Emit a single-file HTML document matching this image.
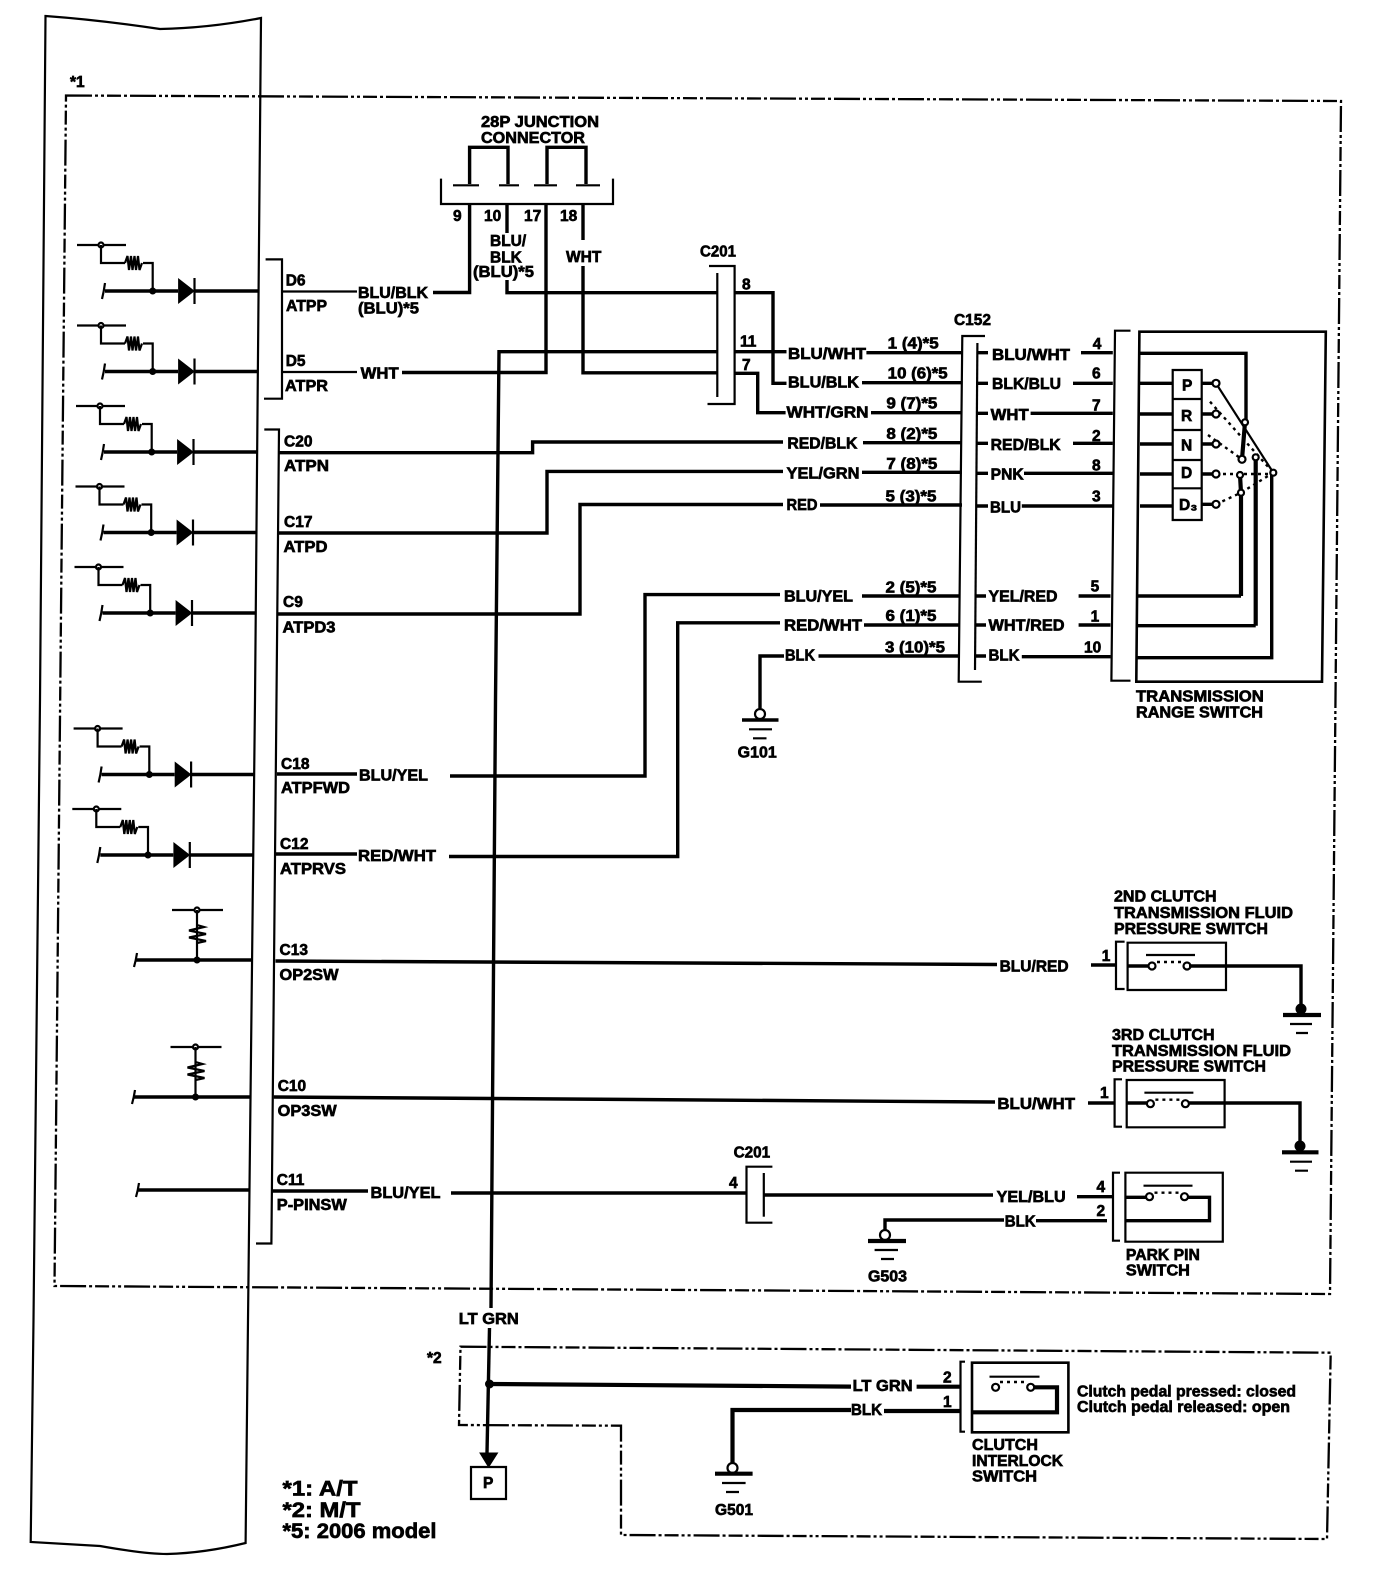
<!DOCTYPE html>
<html lang="en"><head><meta charset="utf-8"><title>A/T gear position wiring diagram</title>
<style>
html,body{margin:0;padding:0;background:#fff}
svg{display:block}
text{font-family:"Liberation Sans",Arial,sans-serif;font-weight:700;font-size:15.5px;fill:#000;stroke:#000;stroke-width:.65}
.w,.t,.h,.b,.d,.f{fill:none;stroke:#000;stroke-linejoin:miter}
.w{stroke-width:3.4}.t{stroke-width:2.2}.h{stroke-width:4.2}.b{stroke-width:2.6}
.d{stroke-width:2.3;stroke-dasharray:26 3 3 3 3 3 14 3 3 3}
.f{stroke-width:2.4;stroke-dasharray:3 4}
.n{fill:#fff;stroke:#000;stroke-width:2.2}.s{fill:#000;stroke:#000}
</style></head><body>
<svg width="1376" height="1582" viewBox="0 0 1376 1582" xmlns="http://www.w3.org/2000/svg">
<defs>
<g id="diode">
<path class="t" d="M77 245H126"/><circle class="n" cx="101" cy="245" r="2.5"/>
<path class="t" d="M101 245V263H125M143 263H152.7V291"/>
<path class="t" d="M125 263l2.5-7 1.5 14 2-14 1.5 14 2-14 1.5 14 2-14 1.5 14 2.5-7"/>
<path class="w" d="M105 291H178M194 291H258"/>
<path class="t" d="M105 283Q104 291 102 299" stroke-width="1.5"/>
<circle class="s" cx="152.7" cy="291" r="3"/>
<path class="s" d="M178.6 279V303L194 291Z"/><path class="t" d="M194.5 278V304"/>
</g>
<g id="vres">
<path class="t" d="M0 0H51"/><circle class="n" cx="25" cy="0" r="2.5"/>
<path class="t" d="M25 0V50"/>
<path class="t" d="M25 15l7 2-15 3.5 17 3.5-17 3.5 17 3.5-9 2" />
<circle class="s" cx="25" cy="50" r="3"/>
</g>
<g id="sw">
<path class="t" d="M0 0H49"/>
<circle class="n" cx="6" cy="11" r="3.5"/><circle class="n" cx="41" cy="11" r="3.5"/>
<path class="f" d="M11 7H36"/>
</g>
</defs>

<!-- left ECM body -->
<path class="t" d="M45.5 16Q100 20 160 29Q210 28 261 18L257.6 400L255 700L248 1320L245.6 1543Q205 1553 167 1554Q145 1554 100 1546L30.7 1542L33.5 1320L40 700Z"/>

<!-- dash-dot boxes -->
<path class="d" d="M66 95.5L1341 101L1330 1294L54.5 1286Z"/>
<path class="d" d="M460.5 1346.7L1330.7 1352.7L1327 1539L621 1535L621 1425.7L459 1425Z"/>
<text x="70" y="87">*1</text>
<text x="427" y="1363">*2</text>

<!-- diode rows -->
<use href="#diode"/>
<use href="#diode" x="0" y="80.5"/>
<use href="#diode" x="-1" y="161"/>
<use href="#diode" x="-1.5" y="241.5"/>
<use href="#diode" x="-2.5" y="322"/>
<use href="#diode" x="-3.4" y="483.5"/>
<use href="#diode" x="-4.7" y="564"/>

<!-- pressure switch inputs -->
<use href="#vres" x="172" y="910"/>
<path class="w" d="M136 960H251"/><path class="t" d="M137 953Q136 960 134 967"/>
<use href="#vres" x="170.5" y="1047"/>
<path class="w" d="M134 1097H250"/><path class="t" d="M135 1090Q134 1097 132 1104"/>
<path class="w" d="M138 1190H248.7"/><path class="t" d="M139 1183Q138 1190 136 1197"/>

<!-- ECM connectors -->
<path class="t" d="M265.6 259.4H282V398.7H264"/>
<path class="t" d="M264.3 429.5H279L271.4 1243.5H256"/>

<!-- ECM labels -->
<text x="285.7" y="285.7">D6</text><text x="286" y="311" textLength="41" lengthAdjust="spacingAndGlyphs">ATPP</text>
<text x="285.7" y="366">D5</text><text x="285" y="391" textLength="43" lengthAdjust="spacingAndGlyphs">ATPR</text>
<text x="284" y="446.4">C20</text><text x="284" y="471" textLength="45" lengthAdjust="spacingAndGlyphs">ATPN</text>
<text x="284" y="527">C17</text><text x="283.5" y="552" textLength="44" lengthAdjust="spacingAndGlyphs">ATPD</text>
<text x="283" y="607">C9</text><text x="282.5" y="632.6" textLength="53" lengthAdjust="spacingAndGlyphs">ATPD3</text>
<text x="281" y="769">C18</text><text x="281" y="793" textLength="69" lengthAdjust="spacingAndGlyphs">ATPFWD</text>
<text x="280" y="849">C12</text><text x="280" y="874" textLength="66" lengthAdjust="spacingAndGlyphs">ATPRVS</text>
<text x="279.5" y="955">C13</text><text x="279.5" y="980" textLength="59" lengthAdjust="spacingAndGlyphs">OP2SW</text>
<text x="277.7" y="1091">C10</text><text x="277.7" y="1116" textLength="59" lengthAdjust="spacingAndGlyphs">OP3SW</text>
<text x="276.8" y="1185">C11</text><text x="276.8" y="1210" textLength="70" lengthAdjust="spacingAndGlyphs">P-PINSW</text>

<!-- 28P junction connector -->
<text x="481" y="127" textLength="118" lengthAdjust="spacingAndGlyphs">28P JUNCTION</text>
<text x="481" y="143" textLength="104" lengthAdjust="spacingAndGlyphs">CONNECTOR</text>
<path class="t" d="M441 178.6V204H613V178.6"/>
<path class="w" d="M469.6 184V147.3H508V184M547 184V147.3H586V184"/>
<path class="t" d="M453 185.3H479M499 185.3H519M534 185.3H557M576 185.3H600"/>
<text x="453" y="221">9</text><text x="484" y="221">10</text><text x="524" y="221">17</text><text x="560" y="221">18</text>
<text x="490" y="246">BLU/</text><text x="490" y="262.5">BLK</text>
<text x="473" y="277" textLength="61" lengthAdjust="spacingAndGlyphs">(BLU)*5</text>
<text x="566" y="262">WHT</text>

<!-- wires from ECM to C201 -->
<path class="t" d="M282 291.5H357"/>
<text x="358" y="298" textLength="70" lengthAdjust="spacingAndGlyphs">BLU/BLK</text>
<text x="358" y="313.4" textLength="61" lengthAdjust="spacingAndGlyphs">(BLU)*5</text>
<path class="w" d="M433 292.5H469.6V204"/>
<path class="w" d="M507 204V233M507 280V292.7H717"/>
<path class="t" d="M282 372H357"/>
<text x="360.7" y="378.6" textLength="38" lengthAdjust="spacingAndGlyphs">WHT</text>
<path class="w" d="M402 372.5H546V204"/>
<path class="w" d="M583 204V240M583 266V372.8H717"/>
<path class="w" d="M717 351.7H499L495.5 700L491 1308"/>
<path class="w" d="M489.5 1328L487 1453"/>
<path class="s" d="M480 1453H497.5L488.6 1467Z"/>
<text x="458.8" y="1324" textLength="60" lengthAdjust="spacingAndGlyphs">LT GRN</text>
<path class="t" d="M471 1467H506V1499H471Z"/>
<text x="483" y="1488">P</text>

<!-- C20, C17, C9 -->
<path class="w" d="M279 452.7H532.6V442H783"/>
<path class="w" d="M279 533H547V471.4H783"/>
<path class="w" d="M278 614H580V504.5H783"/>
<!-- C18, C12 -->
<path class="w" d="M277 774H357"/>
<text x="359" y="780.6" textLength="69" lengthAdjust="spacingAndGlyphs">BLU/YEL</text>
<path class="w" d="M450 776H645V594.6H780"/>
<path class="w" d="M275.5 854H357"/>
<text x="358" y="861" textLength="78" lengthAdjust="spacingAndGlyphs">RED/WHT</text>
<path class="w" d="M449 856.5H677.7V622.8H780"/>

<!-- C201 upper -->
<text x="700" y="256.7" textLength="36" lengthAdjust="spacingAndGlyphs">C201</text>
<path class="t" d="M709 266H734.6V404H707.5"/>
<path class="t" d="M717.3 273V397"/>
<text x="742" y="289.3">8</text><text x="740" y="346.7">11</text><text x="742" y="370">7</text>
<path class="w" d="M734.6 292.7H773V383.3H786.5"/>
<path class="w" d="M734.6 351.7H786.5"/>
<path class="w" d="M734.6 373.3H757.7V412.7H785.6"/>

<!-- mid labels -->
<text x="788" y="359" textLength="78" lengthAdjust="spacingAndGlyphs">BLU/WHT</text>
<text x="788" y="387.3" textLength="71" lengthAdjust="spacingAndGlyphs">BLU/BLK</text>
<text x="786.5" y="417.7" textLength="82" lengthAdjust="spacingAndGlyphs">WHT/GRN</text>
<text x="787.4" y="448.3" textLength="70" lengthAdjust="spacingAndGlyphs">RED/BLK</text>
<text x="786.5" y="478.3" textLength="73" lengthAdjust="spacingAndGlyphs">YEL/GRN</text>
<text x="786.5" y="510" textLength="31" lengthAdjust="spacingAndGlyphs">RED</text>
<text x="784" y="601.3" textLength="69" lengthAdjust="spacingAndGlyphs">BLU/YEL</text>
<text x="784" y="630.7" textLength="78" lengthAdjust="spacingAndGlyphs">RED/WHT</text>
<text x="785" y="660.7" textLength="30" lengthAdjust="spacingAndGlyphs">BLK</text>

<path class="w" d="M866.4 352.7H962M862 382.7H962M871 412.7H962M863 442.7H962M862 472.3H962M820 505H962M862 596H959.6M864 625H958.7M818.5 656H958.7"/>
<text x="887.7" y="348.3" textLength="51" lengthAdjust="spacingAndGlyphs">1 (4)*5</text>
<text x="887.7" y="378.3" textLength="60" lengthAdjust="spacingAndGlyphs">10 (6)*5</text>
<text x="886.4" y="408.3" textLength="51" lengthAdjust="spacingAndGlyphs">9 (7)*5</text>
<text x="886.4" y="439" textLength="51" lengthAdjust="spacingAndGlyphs">8 (2)*5</text>
<text x="886.4" y="469" textLength="51" lengthAdjust="spacingAndGlyphs">7 (8)*5</text>
<text x="885.5" y="501.7" textLength="51" lengthAdjust="spacingAndGlyphs">5 (3)*5</text>
<text x="885.5" y="592.3" textLength="51" lengthAdjust="spacingAndGlyphs">2 (5)*5</text>
<text x="885.5" y="621" textLength="51" lengthAdjust="spacingAndGlyphs">6 (1)*5</text>
<text x="885" y="652.3" textLength="60" lengthAdjust="spacingAndGlyphs">3 (10)*5</text>

<!-- G101 -->
<path class="w" d="M784 656H760V708"/>
<circle cx="760" cy="714" r="5" fill="#fff" stroke="#000" stroke-width="2.2"/>
<path class="w" d="M742 720H778.5"/><path class="t" d="M749 729.3H772M753 738.3H766.5"/>
<text x="737.7" y="757.7" textLength="39" lengthAdjust="spacingAndGlyphs">G101</text>

<!-- C152 -->
<text x="954" y="325" textLength="37" lengthAdjust="spacingAndGlyphs">C152</text>
<path class="t" d="M985 336H962.3L958.7 681.7H981.8"/>
<path class="t" d="M977.4 343L975 670"/>
<path class="w" d="M977 352.7H988M977 383.3H988M977 413.3H988M977 443.3H988M977 473.3H988M977 506H988M976 596H986M976 625H986M976 656H986"/>
<text x="992" y="360" textLength="78" lengthAdjust="spacingAndGlyphs">BLU/WHT</text>
<text x="992" y="389" textLength="69" lengthAdjust="spacingAndGlyphs">BLK/BLU</text>
<text x="990.7" y="420" textLength="38" lengthAdjust="spacingAndGlyphs">WHT</text>
<text x="990.7" y="450" textLength="70" lengthAdjust="spacingAndGlyphs">RED/BLK</text>
<text x="990.7" y="479.3" textLength="33" lengthAdjust="spacingAndGlyphs">PNK</text>
<text x="990" y="512.3" textLength="31" lengthAdjust="spacingAndGlyphs">BLU</text>
<text x="988.5" y="601.7" textLength="69" lengthAdjust="spacingAndGlyphs">YEL/RED</text>
<text x="988.5" y="630.7" textLength="76" lengthAdjust="spacingAndGlyphs">WHT/RED</text>
<text x="988.5" y="660.7" textLength="31" lengthAdjust="spacingAndGlyphs">BLK</text>
<path class="w" d="M1081 352.7H1112.8M1073 383.3H1112.8M1030.6 413.3H1112.8M1073 443.3H1112.8M1024 473.3H1112.8M1021.8 506H1112.8M1078.6 596H1110.5M1078.6 625H1110.5M1021.8 656.7H1110.5"/>
<text x="1092.8" y="349">4</text><text x="1092" y="378.3">6</text><text x="1092" y="410.7">7</text><text x="1092" y="441">2</text><text x="1092" y="470.7">8</text><text x="1092" y="501.7">3</text>
<text x="1090.6" y="591.7">5</text><text x="1090.6" y="621.7">1</text><text x="1084" y="652.7">10</text>

<!-- transmission range switch -->
<path class="t" d="M1130.5 330.7H1115L1111.4 680.7H1130.5"/>
<path class="b" d="M1139.4 331.7H1325.8L1322 681.7H1136.3Z"/>
<path class="w" d="M1140 353.3H1246V421"/>
<path class="w" d="M1140 383.3H1172.7M1140 414H1172.7M1140 444H1172.7M1140 474H1172.7M1140 506H1172.7"/>
<path class="t" d="M1172.7 370H1201.7V520H1172.7ZM1172.7 399H1201.7M1172.7 430H1201.7M1172.7 460H1201.7M1172.7 488.3H1201.7"/>
<text x="1182" y="390.7">P</text><text x="1181" y="421">R</text><text x="1181" y="450.7">N</text><text x="1181" y="478">D</text><text x="1179" y="510">D₃</text>
<path class="w" d="M1201.7 383.3H1216M1201.7 414H1216M1201.7 444H1216M1201.7 474H1216M1201.7 504.3H1216"/>
<path class="t" d="M1216 383.3L1273.3 472.7"/>
<path class="h" d="M1245 422.3L1242 459.3"/>
<path class="f" d="M1210 401.7L1273.3 472.7M1208 435L1242 459.3M1216 474H1273.3M1216 504.3L1241 492.7L1273.3 472.7"/>
<path class="h" d="M1240 475L1241 492.7V596M1255.7 457.3V625.7"/>
<path class="w" d="M1137 596H1241M1137 625.7H1255.7M1136.7 657.7H1271.7V472.7"/>
<circle class="n" cx="1216" cy="383.3" r="3.5"/><circle class="n" cx="1216" cy="414" r="3.5"/><circle class="n" cx="1216" cy="444" r="3.5"/><circle class="n" cx="1216" cy="474" r="3.5"/><circle class="n" cx="1216" cy="504.3" r="3.5"/>
<circle class="n" cx="1245" cy="422.3" r="3"/><circle class="n" cx="1242" cy="459.3" r="3.5"/><circle class="n" cx="1240" cy="475" r="3"/><circle class="n" cx="1241" cy="492.7" r="3"/><circle class="n" cx="1255.7" cy="457.3" r="3"/><circle class="n" cx="1273.3" cy="472.7" r="3"/>
<text x="1136" y="701.7" textLength="127.8" lengthAdjust="spacingAndGlyphs">TRANSMISSION</text>
<text x="1136" y="717.7" textLength="127" lengthAdjust="spacingAndGlyphs">RANGE SWITCH</text>

<!-- 2nd clutch -->
<path class="w" d="M275.5 961L997 964.5"/>
<text x="999.6" y="971.7" textLength="69" lengthAdjust="spacingAndGlyphs">BLU/RED</text>
<path class="w" d="M1091 965H1116"/>
<text x="1101.7" y="961">1</text>
<path class="t" d="M1124.6 941.7H1116V989H1124.6"/>
<path class="t" d="M1127.6 942.7H1226V990H1127.6Z"/>
<use href="#sw" x="1146" y="955"/>
<path class="w" d="M1128 966H1148M1189 966H1301V1006"/>
<text x="1114" y="901.7" textLength="102.6" lengthAdjust="spacingAndGlyphs">2ND CLUTCH</text>
<text x="1114" y="918" textLength="179" lengthAdjust="spacingAndGlyphs">TRANSMISSION FLUID</text>
<text x="1114" y="934" textLength="154" lengthAdjust="spacingAndGlyphs">PRESSURE SWITCH</text>
<circle class="s" cx="1301" cy="1009" r="5"/>
<path class="h" d="M1283 1015H1321"/><path class="t" d="M1290 1024H1312M1296 1033H1308"/>

<!-- 3rd clutch -->
<path class="w" d="M273.7 1097L995 1102"/>
<text x="997.4" y="1109" textLength="77.6" lengthAdjust="spacingAndGlyphs">BLU/WHT</text>
<path class="w" d="M1088 1103H1114.6"/>
<text x="1100" y="1098">1</text>
<path class="t" d="M1122 1079.3H1114.6V1126.7H1122"/>
<path class="t" d="M1126.7 1080H1224.6V1127.3H1126.7Z"/>
<use href="#sw" x="1144.4" y="1092.7"/>
<path class="w" d="M1126.7 1103H1147M1188 1103H1300V1143"/>
<text x="1112" y="1040" textLength="102.6" lengthAdjust="spacingAndGlyphs">3RD CLUTCH</text>
<text x="1112" y="1056" textLength="179" lengthAdjust="spacingAndGlyphs">TRANSMISSION FLUID</text>
<text x="1112" y="1071.7" textLength="154" lengthAdjust="spacingAndGlyphs">PRESSURE SWITCH</text>
<circle class="s" cx="1300" cy="1146" r="5"/>
<path class="h" d="M1282 1152.3H1318.5"/><path class="t" d="M1290 1161.7H1312M1295 1170.7H1308"/>

<!-- park pin -->
<path class="w" d="M272 1191H368"/>
<text x="370.5" y="1198" textLength="70" lengthAdjust="spacingAndGlyphs">BLU/YEL</text>
<path class="w" d="M451 1193H746"/>
<text x="729" y="1188">4</text>
<text x="733.6" y="1157.7" textLength="36.6" lengthAdjust="spacingAndGlyphs">C201</text>
<path class="t" d="M772.4 1166.7H746.5V1222.7H772.4"/>
<path class="t" d="M763.8 1173V1216.7"/>
<path class="w" d="M763.8 1195H993"/>
<text x="996.6" y="1202" textLength="69" lengthAdjust="spacingAndGlyphs">YEL/BLU</text>
<path class="w" d="M1077 1196.7H1113"/>
<text x="1096.5" y="1192">4</text><text x="1096.5" y="1216">2</text>
<path class="t" d="M1120 1172.7H1113V1240.7H1120"/>
<path class="t" d="M1125.4 1172.7H1222.8V1241.7H1125.4Z"/>
<use href="#sw" x="1143.5" y="1185.7"/>
<path class="w" d="M1125.4 1197.3H1146M1187 1197.3H1209.5V1220.7H1125.4"/>
<path class="w" d="M885 1230V1220H1004"/>
<text x="1004.7" y="1226.7" textLength="31" lengthAdjust="spacingAndGlyphs">BLK</text>
<path class="w" d="M1036 1220.7H1107"/>
<circle cx="885" cy="1235" r="5" fill="#fff" stroke="#000" stroke-width="2.2"/>
<path class="h" d="M868 1241H906"/><path class="t" d="M874.6 1250H898M881 1259H894"/>
<text x="868" y="1281.7" textLength="39" lengthAdjust="spacingAndGlyphs">G503</text>
<text x="1125.9" y="1260" textLength="74" lengthAdjust="spacingAndGlyphs">PARK PIN</text>
<text x="1125.9" y="1275.7" textLength="64" lengthAdjust="spacingAndGlyphs">SWITCH</text>

<!-- clutch interlock -->
<circle class="s" cx="489.5" cy="1384" r="4"/>
<path class="h" d="M489.5 1384L851 1386.6"/>
<text x="852.6" y="1391" textLength="60" lengthAdjust="spacingAndGlyphs">LT GRN</text>
<path class="h" d="M916.6 1386.7H960.5"/>
<text x="943" y="1382.3">2</text><text x="943" y="1407">1</text>
<path class="t" d="M965 1361.7H960.5V1431.7H965"/>
<path class="b" d="M972 1362.7H1068.4V1432.3H972Z"/>
<path class="t" d="M989.5 1376.7H1039.5"/>
<path class="f" d="M1000 1382H1026"/>
<circle class="n" cx="995.6" cy="1387.3" r="3.5"/><circle class="n" cx="1030.7" cy="1387.3" r="3.5"/>
<path class="h" d="M1034 1387.3H1057V1412.3H972"/>
<path class="h" d="M732.5 1463V1410H851"/>
<text x="851" y="1415" textLength="31" lengthAdjust="spacingAndGlyphs">BLK</text>
<path class="h" d="M884 1411H960.5"/>
<circle cx="732.5" cy="1468" r="5" fill="#fff" stroke="#000" stroke-width="2.2"/>
<path class="h" d="M715 1473.7H752.6"/><path class="t" d="M722 1483H745.6M726 1492H739"/>
<text x="715" y="1515" textLength="38" lengthAdjust="spacingAndGlyphs">G501</text>
<text x="972" y="1450" textLength="66" lengthAdjust="spacingAndGlyphs">CLUTCH</text>
<text x="972" y="1466" textLength="91" lengthAdjust="spacingAndGlyphs">INTERLOCK</text>
<text x="972" y="1481.7" textLength="65" lengthAdjust="spacingAndGlyphs">SWITCH</text>
<text x="1077" y="1396.7" textLength="219" lengthAdjust="spacingAndGlyphs">Clutch pedal pressed: closed</text>
<text x="1077" y="1412" textLength="213" lengthAdjust="spacingAndGlyphs">Clutch pedal released: open</text>

<!-- legend -->
<text x="282.5" y="1495.7" style="font-size:21px" textLength="75" lengthAdjust="spacingAndGlyphs">*1: A/T</text>
<text x="282.5" y="1517" style="font-size:21px" textLength="78" lengthAdjust="spacingAndGlyphs">*2: M/T</text>
<text x="282.5" y="1538" style="font-size:21px" textLength="154" lengthAdjust="spacingAndGlyphs">*5: 2006 model</text>
</svg>
</body></html>
